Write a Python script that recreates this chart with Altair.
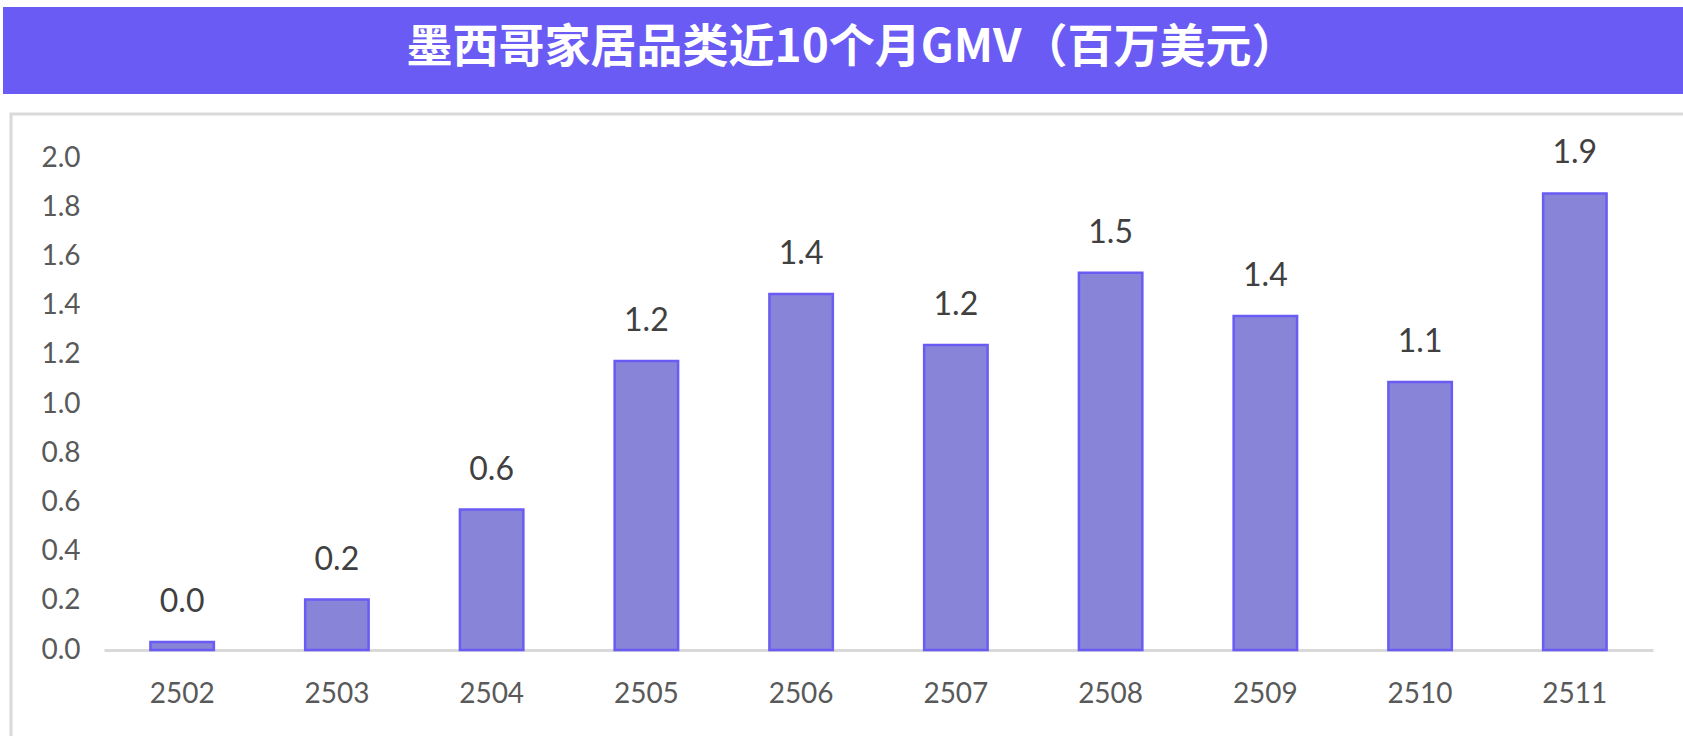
import altair as alt
import pandas as pd

# Monthly GMV of the home category in Mexico, millions of USD
months = ["2502", "2503", "2504", "2505", "2506", "2507", "2508", "2509", "2510", "2511"]
gmv = [0.033, 0.205, 0.571, 1.175, 1.447, 1.24, 1.534, 1.358, 1.089, 1.856]
y_ticks = [0.0, 0.2, 0.4, 0.6, 0.8, 1.0, 1.2, 1.4, 1.6, 1.8, 2.0]
title_text = "墨西哥家居品类近10个月GMV（百万美元）"

df = pd.DataFrame({"month": months, "gmv": gmv})
title_df = pd.DataFrame({"t": [title_text]})

BAND = "#6a5bf5"
BAR_FILL = "#8884d8"
NUM_FONT = "Lato"

# plot area geometry (autosize none: padding + width/height = page)
PAD_L, PAD_T, PAD_R, PAD_B = 104, 158, 30, 86
W, H = 1683 - PAD_L - PAD_R, 736 - PAD_T - PAD_B

x_enc = alt.X(
    "month:N",
    sort=months,
    scale=alt.Scale(paddingInner=0.59, paddingOuter=0.3),
    axis=alt.Axis(
        title=None,
        labelAngle=0,
        labelFont=NUM_FONT,
        labelFontSize=28,
        labelColor="#595959",
        labelPadding=30,
        ticks=False,
        domainColor="#d9d9d9",
        domainWidth=3,
    ),
)
y_enc = alt.Y(
    "gmv:Q",
    scale=alt.Scale(domain=[0, 2], nice=False),
    axis=alt.Axis(
        title=None,
        values=y_ticks,
        format=".1f",
        labelFont=NUM_FONT,
        labelFontSize=28,
        labelColor="#595959",
        labelPadding=24,
        ticks=False,
        domain=False,
        grid=False,
    ),
)

bars = alt.Chart(df).mark_bar(
    color=BAR_FILL, stroke=BAND, strokeWidth=2.5
).encode(x=x_enc, y=y_enc)

labels = alt.Chart(df).mark_text(
    font=NUM_FONT, fontSize=32, color="#404040", baseline="alphabetic", dy=-30
).encode(
    x=alt.X("month:N", sort=months),
    y="gmv:Q",
    text=alt.Text("gmv:Q", format=".1f"),
)

# light grey frame around the plot panel
frame = alt.Chart(title_df).mark_rect(
    fill=None, stroke="#d9d9d9", strokeWidth=3
).encode(
    x=alt.value(11 - PAD_L),
    x2=alt.value(1700 - PAD_L),
    y=alt.value(114 - PAD_T),
    y2=alt.value(760 - PAD_T),
)

# purple heading band with white title
band = alt.Chart(title_df).mark_rect(color=BAND).encode(
    x=alt.value(3 - PAD_L),
    x2=alt.value(1683 - PAD_L),
    y=alt.value(7 - PAD_T),
    y2=alt.value(94 - PAD_T),
)
heading = alt.Chart(title_df).mark_text(
    font="Noto Sans CJK SC",
    fontWeight="bold",
    fontSize=46,
    color="white",
    align="center",
    baseline="middle",
).encode(
    x=alt.value(852 - PAD_L),
    y=alt.value(48 - PAD_T),
    text="t:N",
)

chart = alt.layer(frame, band, heading, bars, labels).properties(
    width=W,
    height=H,
    padding={"left": PAD_L, "top": PAD_T, "right": PAD_R, "bottom": PAD_B},
    autosize=alt.AutoSizeParams(type="none"),
    background="white",
).configure_view(stroke=None)

chart.save("out.html", embed_options={"renderer": "svg", "actions": False})
